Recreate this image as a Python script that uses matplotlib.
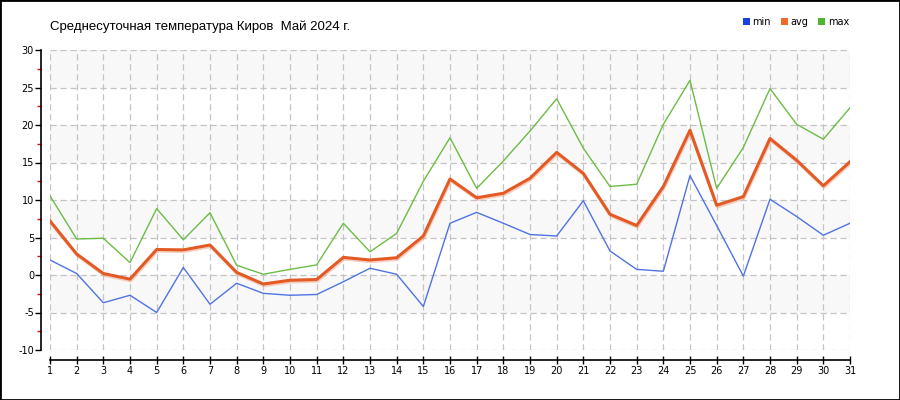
import matplotlib
matplotlib.use("Agg")
import matplotlib.pyplot as plt
import matplotlib.patheffects as pe
from matplotlib.patches import Patch, Rectangle
import numpy as np

plt.rcParams["axes.unicode_minus"] = False

title = "Среднесуточная температура Киров  Май 2024 г."
days = list(range(1, 32))
t_min = [2.0, 0.2, -3.7, -2.7, -5.0, 1.0, -3.9, -1.1, -2.45, -2.7, -2.6, -0.9, 0.9, 0.1, -4.2, 6.9,
         8.35, 6.9, 5.4, 5.2, 9.9, 3.2, 0.75, 0.5, 13.25, 6.6, -0.15, 10.1, 7.8, 5.3, 6.9]
t_avg = [7.2, 2.8, 0.2, -0.55, 3.4, 3.35, 4.0, 0.35, -1.2, -0.7, -0.6, 2.35, 2.0, 2.3, 5.2, 12.8,
         10.3, 10.9, 12.9, 16.35, 13.55, 8.1, 6.6, 11.8, 19.3, 9.3, 10.45, 18.2, 15.3, 11.9, 15.1]
t_max = [10.55, 4.8, 4.9, 1.65, 8.85, 4.7, 8.3, 1.3, 0.1, 0.75, 1.35, 6.9, 3.1, 5.55, 12.5, 18.3,
         11.55, 15.2, 19.2, 23.5, 16.9, 11.8, 12.1, 20.1, 25.95, 11.55, 17.0, 24.85, 20.1, 18.1, 22.3]
series_labels = ["min", "avg", "max"]
legend_colors = ["#1a3fe0", "#f06a2a", "#4cb62c"]

fig = plt.figure(figsize=(9, 4), dpi=100)
fig.patches.append(Rectangle((0, 0), 1, 1, transform=fig.transFigure, fill=False,
                             edgecolor="black", linewidth=2))
ax = fig.add_axes([50 / 900, 50 / 400, 800 / 900, 300 / 400])

# alternating bands
for lo in range(-5, 30, 10):
    ax.axhspan(lo, lo + 5, color="#f8f8f8", zorder=0, lw=0)

ax.set_xlim(1, 31)
ax.set_ylim(-10, 30)
ax.set_xticks(days)
ax.set_yticks(np.arange(-10, 31, 5))
ax.set_yticks(np.arange(-7.5, 30, 5), minor=True)
ax.grid(True, color="#c4c4c4", linestyle=(0, (5, 3)), linewidth=0.9, zorder=1)

ax.plot(days, t_max, color="#6cbd45", lw=1.0, zorder=3)
ax.plot(days, t_min, color="#5073e2", lw=1.0, zorder=3)
ax.plot(days, t_avg, color="#e45a25", lw=2.2, zorder=4,
        path_effects=[pe.SimpleLineShadow(offset=(0.5, -1.2), shadow_color="#f0a080", alpha=0.5),
                      pe.Normal()])

for s in ["top", "right"]:
    ax.spines[s].set_visible(False)
ax.spines["left"].set_position(("outward", 6.5))
ax.spines["bottom"].set_position(("outward", 7.2))
ax.spines["left"].set_linewidth(1.2)
ax.spines["bottom"].set_linewidth(1.2)
ax.tick_params(axis="y", which="major", length=4, width=1, labelsize=7, pad=1)
ax.tick_params(axis="y", which="minor", length=3, width=1, color="red")
ax.tick_params(axis="x", which="major", direction="inout", length=6, width=1, labelsize=7, pad=1)

fig.text(50 / 900, 1 - 27 / 400, title, fontsize=9.5, family="Liberation Sans", va="center")

handles = [Patch(facecolor=c, edgecolor="none") for c in legend_colors]
fig.legend(handles, series_labels, loc="center", bbox_to_anchor=(796 / 900, 1 - 22 / 400),
           ncol=3, frameon=False, fontsize=7, handlelength=0.7, handleheight=0.7,
           handletextpad=0.3, columnspacing=1.0)

fig.savefig("out.png", dpi=100)
